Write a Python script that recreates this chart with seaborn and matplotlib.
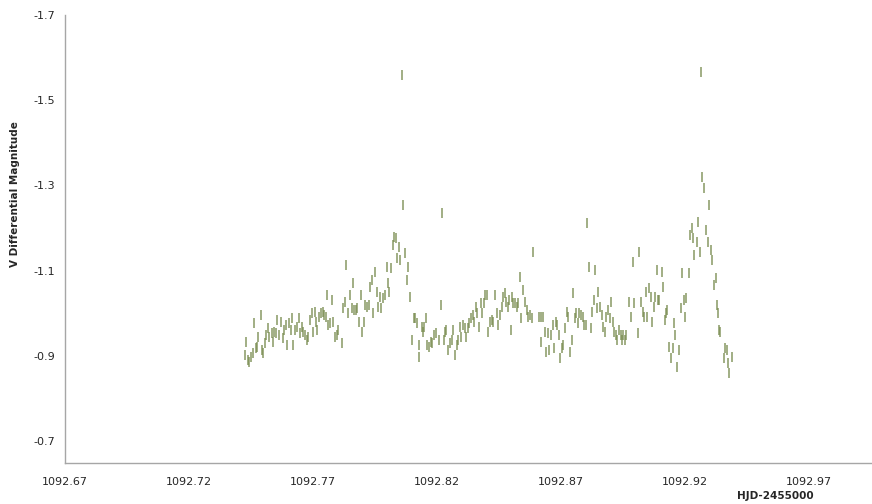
import matplotlib
matplotlib.use("Agg")
import matplotlib.pyplot as plt
import seaborn as sns
import pandas as pd

# ==========================================
# DATA
# ==========================================

hjd = [
    1092.7426, 1092.7430, 1092.7438, 1092.7442, 1092.7450, 1092.7458, 1092.7462, 1092.7470,
    1092.7474, 1092.7478, 1092.7490, 1092.7494, 1092.7498, 1092.7506, 1092.7510, 1092.7518,
    1092.7522, 1092.7535, 1092.7539, 1092.7543, 1092.7551, 1092.7555, 1092.7563, 1092.7571,
    1092.7579, 1092.7583, 1092.7591, 1092.7595, 1092.7603, 1092.7611, 1092.7615, 1092.7619,
    1092.7627, 1092.7635, 1092.7643, 1092.7647, 1092.7655, 1092.7659, 1092.7667, 1092.7675,
    1092.7679, 1092.7687, 1092.7695, 1092.7699, 1092.7707, 1092.7711, 1092.7715, 1092.7723,
    1092.7731, 1092.7739, 1092.7743, 1092.7751, 1092.7755, 1092.7759, 1092.7768, 1092.7776,
    1092.7780, 1092.7788, 1092.7796, 1092.7800,
    1092.7817, 1092.7821, 1092.7829, 1092.7833, 1092.7841, 1092.7849, 1092.7857, 1092.7861,
    1092.7865, 1092.7873, 1092.7877, 1092.7885, 1092.7893, 1092.7897, 1092.7905, 1092.7909,
    1092.7917, 1092.7925, 1092.7929, 1092.7938, 1092.7942, 1092.7950, 1092.7958, 1092.7962,
    1092.7970, 1092.7974, 1092.7982, 1092.7990, 1092.7998, 1092.8002, 1092.8006, 1092.8014,
    1092.8022, 1092.8026, 1092.8034, 1092.8038, 1092.8046, 1092.8050, 1092.8062, 1092.8058,
    1092.8070, 1092.8078, 1092.8082, 1092.8091, 1092.8099, 1092.8107, 1092.8111, 1092.8119,
    1092.8127, 1092.8129, 1092.8139, 1092.8143, 1092.8147, 1092.8155, 1092.8159, 1092.8167,
    1092.8175, 1092.8179, 1092.8187, 1092.8195, 1092.8208,
    1092.8216, 1092.8220, 1092.8228, 1092.8232, 1092.8236, 1092.8244, 1092.8252, 1092.8260,
    1092.8264, 1092.8272, 1092.8280, 1092.8284, 1092.8292, 1092.8296, 1092.8304, 1092.8312,
    1092.8316, 1092.8324, 1092.8328, 1092.8336, 1092.8344, 1092.8348, 1092.8356, 1092.8360,
    1092.8368, 1092.8377, 1092.8381, 1092.8389, 1092.8393, 1092.8401, 1092.8405, 1092.8413,
    1092.8421, 1092.8425, 1092.8433, 1092.8441, 1092.8445, 1092.8453, 1092.8461, 1092.8465,
    1092.8473, 1092.8477, 1092.8485, 1092.8489, 1092.8497, 1092.8501, 1092.8505, 1092.8514,
    1092.8522, 1092.8526, 1092.8534, 1092.8538, 1092.8546, 1092.8554, 1092.8562, 1092.8566,
    1092.8574, 1092.8582, 1092.8586, 1092.8610,
    1092.8619, 1092.8621, 1092.8627, 1092.8635, 1092.8639, 1092.8647, 1092.8651, 1092.8659,
    1092.8667, 1092.8671, 1092.8679, 1092.8683, 1092.8691, 1092.8695, 1092.8703, 1092.8707,
    1092.8715, 1092.8723, 1092.8727, 1092.8735, 1092.8744, 1092.8748, 1092.8756, 1092.8760,
    1092.8768, 1092.8772, 1092.8780, 1092.8788, 1092.8792, 1092.8800, 1092.8804, 1092.8812,
    1092.8820, 1092.8824, 1092.8832, 1092.8836, 1092.8844, 1092.8848, 1092.8856, 1092.8865,
    1092.8869, 1092.8877, 1092.8881, 1092.8889, 1092.8897, 1092.8901, 1092.8909, 1092.8913,
    1092.8921, 1092.8925, 1092.8933, 1092.8941, 1092.8945, 1092.8949, 1092.8957, 1092.8961,
    1092.8973, 1092.8981, 1092.8989, 1092.8993, 1092.9009, 1092.9013,
    1092.9022, 1092.9030, 1092.9034, 1092.9042, 1092.9046, 1092.9054, 1092.9062, 1092.9066,
    1092.9074, 1092.9078, 1092.9086, 1092.9090, 1092.9094, 1092.9106, 1092.9110, 1092.9118,
    1092.9122, 1092.9126, 1092.9134, 1092.9142, 1092.9150, 1092.9154, 1092.9158, 1092.9167,
    1092.9175, 1092.9183, 1092.9187, 1092.9195, 1092.9199, 1092.9203, 1092.9215, 1092.9219,
    1092.9227, 1092.9231, 1092.9235, 1092.9247, 1092.9251, 1092.9259, 1092.9263, 1092.9267,
    1092.9275, 1092.9283, 1092.9291, 1092.9295, 1092.9303, 1092.9307, 1092.9315, 1092.9323,
    1092.9327, 1092.9335, 1092.9339, 1092.9343, 1092.9356, 1092.9360, 1092.9368, 1092.9372,
    1092.9376, 1092.9388,
]

vmag = [
    -0.902, -0.932, -0.890, -0.885, -0.897, -0.906, -0.977, -0.918,
    -0.920, -0.944, -0.995, -0.913, -0.906, -0.930, -0.948, -0.965,
    -0.944, -0.953, -0.932, -0.956, -0.953, -0.984, -0.948, -0.979,
    -0.941, -0.960, -0.972, -0.925, -0.977, -0.960, -0.988, -0.925,
    -0.960, -0.967, -0.988, -0.953, -0.967, -0.956, -0.948, -0.937,
    -0.944, -0.984, -1.000, -0.956, -1.002, -0.979, -0.960, -0.991,
    -1.000, -1.002, -0.995, -0.991, -1.042, -0.972, -0.977, -1.031,
    -0.979, -0.944, -0.948, -0.960,
    -0.930, -1.012, -1.026, -1.113, -1.000, -1.042, -1.012, -1.070,
    -1.007, -1.007, -1.012, -0.979, -1.042, -0.956, -0.979, -1.019,
    -1.014, -1.019, -1.061, -1.077, -1.000, -1.096, -1.049, -1.014,
    -1.038, -1.012, -1.035, -1.042, -1.108, -1.070, -1.049, -1.106,
    -1.160, -1.178, -1.176, -1.129, -1.155, -1.124, -1.253, -1.558,
    -1.141, -1.077, -1.108, -1.038, -0.937, -0.988, -0.988, -0.977,
    -0.925, -0.897, -0.967, -0.956, -0.967, -0.988, -0.925, -0.920,
    -0.932, -0.930, -0.948, -0.953, -0.937,
    -1.019, -1.235, -0.937, -0.956, -0.960, -0.913, -0.930, -0.937,
    -0.960, -0.902, -0.925, -0.937, -0.967, -0.944, -0.972, -0.965,
    -0.944, -0.965, -0.977, -0.988, -0.995, -0.979, -1.014, -1.000,
    -0.967, -1.024, -1.000, -1.024, -1.042, -1.042, -0.956, -0.979,
    -0.984, -0.979, -1.042, -1.000, -0.972, -0.995, -1.014, -1.038,
    -1.047, -1.026, -1.014, -1.031, -0.960, -1.038, -1.024, -1.024,
    -1.014, -1.024, -1.084, -0.988, -1.054, -1.026, -1.007, -0.991,
    -0.995, -0.988, -1.143, -0.991,
    -0.991, -0.932, -0.991, -0.956, -0.909, -0.953, -0.913, -0.948,
    -0.972, -0.918, -0.979, -0.972, -0.948, -0.895, -0.918, -0.925,
    -0.965, -1.002, -0.991, -0.909, -0.937, -1.047, -0.988, -1.000,
    -0.977, -1.000, -0.995, -0.991, -0.972, -0.972, -1.211, -1.108,
    -0.965, -1.002, -1.031, -1.101, -1.012, -1.049, -1.014, -0.995,
    -0.967, -0.956, -0.991, -1.007, -0.988, -1.026, -0.979, -0.956,
    -0.948, -0.937, -0.960, -0.948, -0.937, -0.948, -0.937, -0.948,
    -1.026, -0.991, -1.120, -1.024, -0.953, -1.143,
    -1.026, -1.002, -0.991, -1.049, -0.991, -1.059, -1.038, -0.979,
    -1.014, -1.038, -1.101, -1.031, -1.031, -1.096, -1.061, -0.984,
    -1.000, -1.007, -0.920, -0.895, -0.918, -0.977, -0.948, -0.873,
    -0.913, -1.012, -1.094, -1.031, -0.991, -1.035, -1.094, -1.183,
    -1.199, -1.176, -1.136, -1.167, -1.213, -1.143, -1.565, -1.319,
    -1.293, -1.195, -1.167, -1.253, -1.148, -1.124, -1.066, -1.082,
    -1.019, -1.000, -0.960, -0.956, -0.895, -0.918, -0.913, -0.883,
    -0.859, -0.897,
]

x_ticks = [1092.67, 1092.72, 1092.77, 1092.82, 1092.87, 1092.92, 1092.97]
y_ticks = [-0.7, -0.9, -1.1, -1.3, -1.5, -1.7]

df = pd.DataFrame({"HJD": hjd, "V": vmag})

# ==========================================
# PLOT
# ==========================================

sns.set_style("white")
plt.rcParams["font.family"] = ["DejaVu Sans"]

fig = plt.figure(figsize=(8.72, 5.04), dpi=100)
ax = fig.add_axes([65 / 872, 41 / 504, 807 / 872, 448 / 504])

sns.scatterplot(
    data=df,
    x="HJD",
    y="V",
    marker="|",
    s=55,
    linewidth=1.2,
    color="#76894c",
    alpha=0.8,
    ax=ax
)

ax.set_xlim(1092.67, 1092.9954)
ax.set_ylim(-0.648, -1.7)

ax.set_xticks(x_ticks)
ax.set_xticklabels([f"{t:.2f}" for t in x_ticks])
ax.set_yticks(y_ticks)
ax.set_yticklabels([f"{t:.1f}" for t in y_ticks])

for side in ["top", "right"]:
    ax.spines[side].set_visible(False)
for side in ["left", "bottom"]:
    ax.spines[side].set_color("#a6a6a6")
    ax.spines[side].set_linewidth(1.0)

ax.tick_params(axis="both", which="major", direction="out", length=4,
               width=1.0, color="#a6a6a6", labelsize=8, labelcolor="#262626")
ax.tick_params(axis="x", pad=6)
ax.tick_params(axis="y", pad=3)

ax.set_xlabel("HJD-2455000", fontsize=7.5, fontweight="bold", color="#262626")
ax.xaxis.set_label_coords(0.88, -0.062)
ax.set_ylabel("V Differential Magnitude", fontsize=7.5, fontweight="bold", color="#262626")
ax.yaxis.set_label_coords(-0.056, 0.6)

plt.savefig("out.png", dpi=100)
